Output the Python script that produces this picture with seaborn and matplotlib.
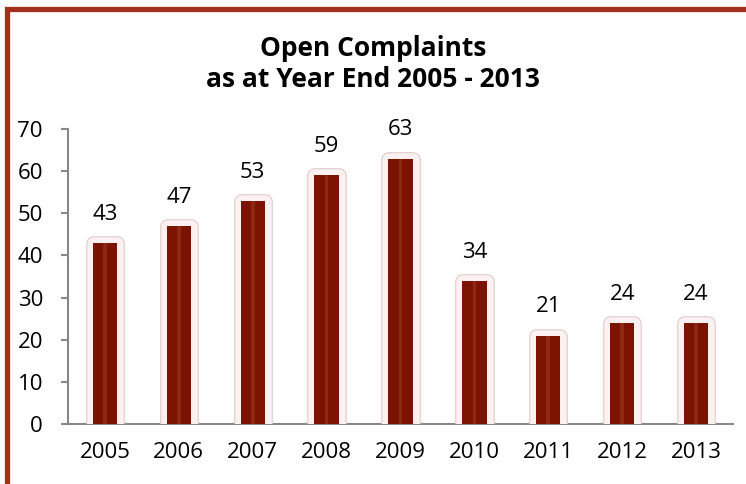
import matplotlib
matplotlib.use("Agg")
import matplotlib.pyplot as plt
import matplotlib.patheffects as pe
from matplotlib.patches import Rectangle
from matplotlib.ticker import FixedLocator
import seaborn as sns
import pandas as pd

years = ["2005", "2006", "2007", "2008", "2009", "2010", "2011", "2012", "2013"]
open_complaints = [43, 47, 53, 59, 63, 34, 21, 24, 24]
y_ticks = [0, 10, 20, 30, 40, 50, 60, 70]
title = "Open Complaints\nas at Year End 2005 - 2013"

sns.set_theme(style="white")
plt.rcParams["font.family"] = ["Open Sans", "DejaVu Sans"]

df = pd.DataFrame({"year": years, "count": open_complaints})

W, H = 746, 484
fig = plt.figure(figsize=(W / 100, H / 100), dpi=100)
ax = fig.add_axes([68 / W, 1 - 424 / H, (733 - 68) / W, (424 - 129) / H])

# main dark bars with halo
sns.barplot(data=df, x="year", y="count", color="#7b1300", width=0.33,
            saturation=1, ax=ax, zorder=3)
halo = [pe.Stroke(linewidth=10.5, foreground="#dccaca", joinstyle="round"),
        pe.Stroke(linewidth=9.0, foreground="#fcf0f0", joinstyle="round"),
        pe.Normal()]
for p in ax.patches:
    p.set_path_effects(halo)
    p.set_linewidth(0)
n_main = len(ax.patches)

# lighter centre stripe for the glossy look
sns.barplot(data=df, x="year", y="count", color="#a04020", width=0.05,
            saturation=1, ax=ax, zorder=4, alpha=0.5)
for p in ax.patches[n_main:]:
    p.set_linewidth(0)

ax.bar_label(ax.containers[0], labels=[str(v) for v in open_complaints],
             padding=13, fontsize=16, color="black")

ax.set_ylim(0, 70)
ax.set_xlim(-0.5, len(years) - 0.5)
ax.set_yticks(y_ticks)
ax.set_xlabel("")
ax.set_ylabel("")
ax.xaxis.set_minor_locator(FixedLocator([i - 0.5 for i in range(len(years) + 1)]))
ax.tick_params(axis="x", which="major", length=0, pad=13, labelsize=16, colors="black")
ax.tick_params(axis="x", which="minor", length=6, width=1.5, color="#888888", direction="out")
ax.tick_params(axis="y", which="major", length=5, width=1.5, color="#888888",
               direction="out", pad=13, labelsize=16, labelcolor="black", left=True)
for s in ["top", "right"]:
    ax.spines[s].set_visible(False)
for s in ["left", "bottom"]:
    ax.spines[s].set_color("#888888")
    ax.spines[s].set_linewidth(1.5)
ax.set_facecolor("white")

fig.text(0.5, 1 - 64 / H, title, ha="center", va="center", fontsize=19,
         fontweight="bold", linespacing=1.15, color="black")

# cropped frame border
fig.patches.append(Rectangle((6.5 / W, -0.2), 1.5, 1 - 9.5 / H + 0.2,
                             transform=fig.transFigure, fill=False,
                             edgecolor="#a3301f", linewidth=3.8, zorder=10))

fig.savefig("out.png", dpi=100, facecolor="white")
